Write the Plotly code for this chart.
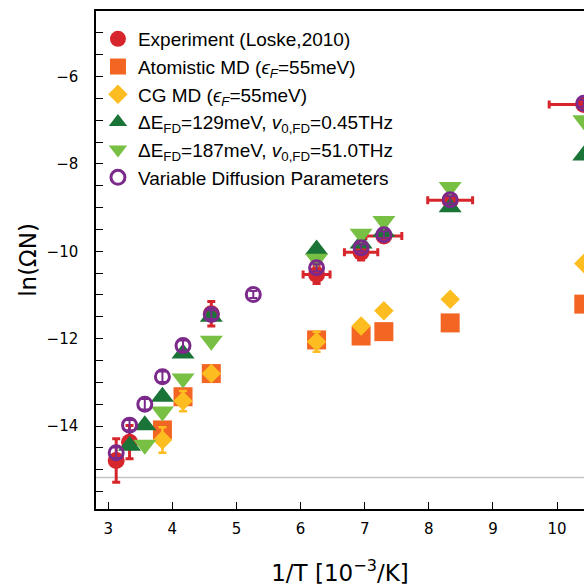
import plotly.graph_objects as go

# 1/T values [10^-3 / K]
x_exp = [3.125, 3.333, 4.608, 6.25, 6.944, 7.299, 8.333, 10.417]
y_exp = [-14.79, -14.37, -11.43, -10.53, -10.02, -9.65, -8.83, -6.64]
yerr_exp = [0.5, 0.38, 0.28, 0.21, 0.18, 0.1, 0.1, 0.1]
xerr_exp = [0.0, 0.0, 0.0, 0.21, 0.26, 0.28, 0.35, 0.54]

x_amd = [3.846, 4.167, 4.608, 6.25, 6.944, 7.299, 8.333, 10.417]
y_amd = [-14.09, -13.33, -12.8, -12.03, -11.94, -11.84, -11.64, -11.21]

x_cg = [3.846, 4.167, 4.608, 6.25, 6.944, 7.299, 8.333, 10.417]
y_cg = [-14.32, -13.43, -12.8, -12.07, -11.71, -11.36, -11.1, -10.28]
yerr_cg = [0.29, 0.23, 0.1, 0.23, 0.1, 0.1, 0.1, 0.1]

x_fd1 = [3.333, 3.571, 3.846, 4.167, 4.608, 6.25, 6.944, 7.299, 8.333, 10.417]
y_fd1 = [-14.45, -13.98, -13.33, -12.34, -11.5, -9.96, -9.82, -9.56, -8.99, -7.81]

x_fd2 = [3.571, 3.846, 4.167, 4.608, 6.25, 6.944, 7.299, 8.333, 10.417]
y_fd2 = [-14.43, -13.67, -12.91, -12.05, -10.17, -9.6, -9.31, -8.53, -7.0]

x_var = [3.125, 3.333, 3.571, 3.846, 4.167, 4.608, 5.263, 6.25, 6.944, 7.299, 8.333, 10.417]
y_var = [-14.61, -13.98, -13.5, -12.87, -12.16, -11.45, -10.99, -10.38, -9.92, -9.62, -8.82, -6.61]
yerr_var = [0.12, 0.12, 0.12, 0.12, 0.12, 0.1, 0.08, 0.08, 0.08, 0.08, 0.08, 0.08]

ref_line = -15.18

RED = "#d7262b"
ORANGE = "#f26522"
YELLOW = "#fdbd20"
DGREEN = "#1a7437"
LGREEN = "#77c043"
PURPLE = "#7b2a8b"

fig = go.Figure()

fig.add_hline(y=ref_line, line=dict(color="#c4c4c4", width=1.5), layer="below")

fig.add_trace(go.Scatter(
    x=x_exp, y=y_exp, mode="markers", name="Experiment (Loske,2010)",
    marker=dict(symbol="circle", size=17, color=RED),
    error_y=dict(type="data", array=yerr_exp, color=RED, thickness=3, width=4),
    error_x=dict(type="data", array=xerr_exp, color=RED, thickness=3, width=4),
))
fig.add_trace(go.Scatter(
    x=x_amd, y=y_amd, mode="markers",
    name="Atomistic MD (<i>ϵ<sub>F</sub></i>=55meV)",
    marker=dict(symbol="square", size=19, color=ORANGE),
))
fig.add_trace(go.Scatter(
    x=x_cg, y=y_cg, mode="markers",
    name="CG MD (<i>ϵ<sub>F</sub></i>=55meV)",
    marker=dict(symbol="diamond", size=15, color=YELLOW),
    error_y=dict(type="data", array=yerr_cg, color=YELLOW, thickness=2.5, width=4),
))
fig.add_trace(go.Scatter(
    x=x_fd1, y=y_fd1, mode="markers",
    name="ΔE<sub>FD</sub>=129meV, <i>v</i><sub>0,FD</sub>=0.45THz",
    marker=dict(symbol="triangle-up", size=20, color=DGREEN),
))
fig.add_trace(go.Scatter(
    x=x_fd2, y=y_fd2, mode="markers",
    name="ΔE<sub>FD</sub>=187meV, <i>v</i><sub>0,FD</sub>=51.0THz",
    marker=dict(symbol="triangle-down", size=20, color=LGREEN),
))
fig.add_trace(go.Scatter(
    x=x_var, y=y_var, mode="markers", name="Variable Diffusion Parameters",
    marker=dict(symbol="circle-open", size=14, color=PURPLE, line=dict(width=3, color=PURPLE)),
    error_y=dict(type="data", array=yerr_var, color=PURPLE, thickness=2, width=4),
))

tickfont = dict(family="DejaVu Sans", size=15, color="black")
fig.update_layout(
    width=584, height=586,
    margin=dict(l=96, r=0, t=11, b=77, autoexpand=False),
    paper_bgcolor="white", plot_bgcolor="white",
    showlegend=True,
    legend=dict(x=0.004, y=0.982, xanchor="left", yanchor="top",
                font=dict(family="Liberation Sans, Arial", size=19, color="black"),
                bgcolor="rgba(0,0,0,0)", borderwidth=0),
    xaxis=dict(range=[2.81, 10.42], tickvals=[3, 4, 5, 6, 7, 8, 9, 10],
               ticks="inside", ticklen=7, tickwidth=1.2, tickcolor="black",
               ticklabelstandoff=5,
               showline=True, linecolor="black", linewidth=1.5, mirror=True,
               showgrid=False, zeroline=False, tickfont=tickfont, automargin=False,
               title=dict(text="1/T [10<sup>−3</sup>/K]",
                          font=dict(family="DejaVu Sans", size=23, color="black"),
                          standoff=30)),
    yaxis=dict(range=[-15.9, -4.5], tickvals=[-14, -12, -10, -8, -6],
               ticktext=["−14", "−12", "−10", "−8", "−6"],
               ticks="inside", ticklen=7, tickwidth=1.2, tickcolor="black",
               ticklabelstandoff=13,
               minor=dict(dtick=0.5, tick0=0, ticks="inside", ticklen=7, tickwidth=1.2, tickcolor="black", showgrid=False),
               showline=True, linecolor="black", linewidth=1.5, mirror=False,
               showgrid=False, zeroline=False, tickfont=tickfont, automargin=False,
               title=dict(text="ln(ΩN)",
                          font=dict(family="DejaVu Sans", size=23, color="black"),
                          standoff=4)),
)

fig.write_html("out.html", config={"displayModeBar": False},
               post_script="document.body.style.margin='0';document.body.style.overflow='hidden';")
